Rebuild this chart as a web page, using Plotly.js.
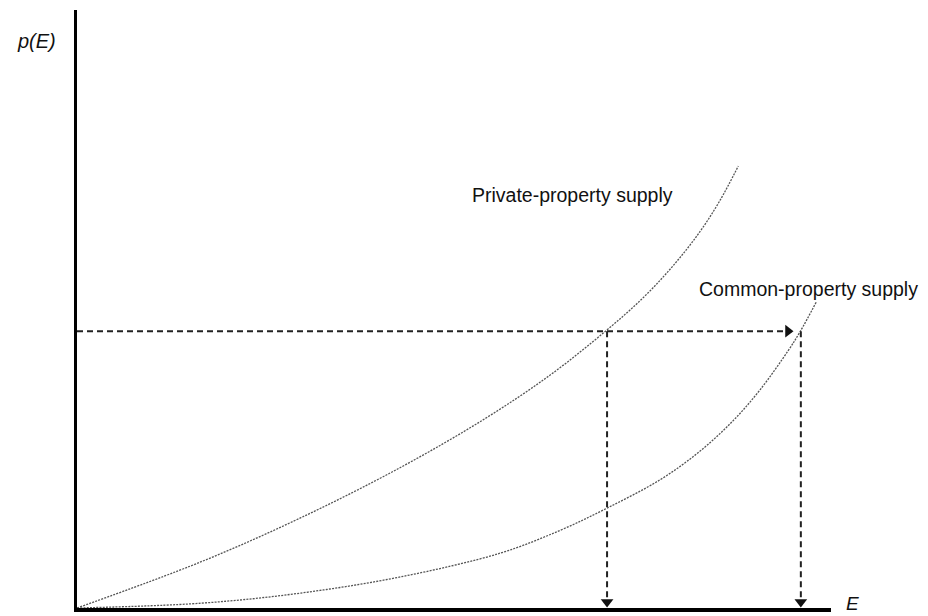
<!DOCTYPE html>
<html>
<head>
<meta charset="utf-8">
<script src="https://cdn.plot.ly/plotly-3.0.1.min.js"></script>
<style>
  html, body { margin: 0; padding: 0; background: #fff; }
  #chart { width: 928px; height: 616px; }
</style>
</head>
<body>
<div id="chart"></div>
<script>
// Private-property supply curve (E, p(E))
const E_private = [0, 16.4, 29.7, 42.9, 53.9, 62.8, 70.1, 75.1, 79.1, 82.6, 85.3, 87.7];
const p_private = [0, 7.7, 15.1, 23.5, 31.5, 39.0, 46.3, 51.9, 57.3, 62.9, 68.2, 73.9];

// Common-property supply curve (E, p(E))
const E_common = [0, 16.4, 29.7, 42.9, 56.2, 64.1, 70.3, 77.4, 82.6, 87.0, 90.6, 94.3, 95.9, 98.1];
const p_common = [0, 0.8, 2.5, 5.2, 9.2, 13.0, 16.7, 21.5, 26.2, 31.3, 36.5, 43.0, 46.2, 51.3];

// Equilibrium price and effort levels
const p_level = 46.3;
const E_private_eq = 70.3;
const E_common_eq = 96.0;

const curveLine = { color: '#555', width: 1.3, dash: '2px,1.2px', shape: 'spline', smoothing: 1 };
const dashLine = { color: '#222', width: 2, dash: '6px,4px' };

const traces = [
  { x: E_private, y: p_private, mode: 'lines', line: curveLine, hoverinfo: 'skip' },
  { x: E_common, y: p_common, mode: 'lines', line: curveLine, hoverinfo: 'skip' },
  // horizontal dashed price line
  { x: [0, E_common_eq - 1.2], y: [p_level, p_level], mode: 'lines', line: dashLine, hoverinfo: 'skip' },
  // vertical dashed lines
  { x: [E_private_eq, E_private_eq], y: [p_level, 1.5], mode: 'lines', line: dashLine, hoverinfo: 'skip' },
  { x: [E_common_eq, E_common_eq], y: [p_level, 1.5], mode: 'lines', line: dashLine, hoverinfo: 'skip' },
  // arrowheads
  { x: [E_common_eq - 1.7], y: [p_level], mode: 'markers',
    marker: { symbol: 'triangle-right', size: 11, color: '#111' }, hoverinfo: 'skip' },
  { x: [E_private_eq, E_common_eq], y: [1.0, 1.0], mode: 'markers',
    marker: { symbol: 'triangle-down', size: 11, color: '#111' }, hoverinfo: 'skip' }
];

const labelFont = { family: 'Liberation Sans, Arial, sans-serif', size: 19.5, color: '#111' };

const layout = {
  width: 928, height: 616,
  margin: { l: 77, r: 97, t: 10, b: 8 },
  paper_bgcolor: '#fff', plot_bgcolor: '#fff',
  showlegend: false,
  xaxis: { range: [0, 100], showgrid: false, zeroline: false, showticklabels: false, ticks: '',
           showline: true, linecolor: '#000', linewidth: 3.5, fixedrange: true },
  yaxis: { range: [0, 100], showgrid: false, zeroline: false, showticklabels: false, ticks: '',
           showline: true, linecolor: '#000', linewidth: 3.5, fixedrange: true },
  annotations: [
    { xref: 'x', yref: 'y', x: 52.1, y: 69.1, xanchor: 'left', yanchor: 'middle',
      text: 'Private-property supply', showarrow: false, font: labelFont },
    { xref: 'x', yref: 'y', x: 82.2, y: 53.3, xanchor: 'left', yanchor: 'middle',
      text: 'Common-property supply', showarrow: false, font: labelFont },
    { xref: 'paper', yref: 'paper', x: -0.054, y: 0.948, xanchor: 'center', yanchor: 'middle',
      text: 'p(E)', showarrow: false,
      font: { family: 'Liberation Sans, Arial, sans-serif', size: 20, color: '#111', style: 'italic' } },
    { xref: 'paper', yref: 'paper', x: 1.029, y: 0.008, xanchor: 'center', yanchor: 'middle',
      text: 'E', showarrow: false,
      font: { family: 'Liberation Sans, Arial, sans-serif', size: 19, color: '#111', style: 'italic' } }
  ]
};

Plotly.newPlot('chart', traces, layout, { displayModeBar: false, staticPlot: true });
</script>
</body>
</html>
